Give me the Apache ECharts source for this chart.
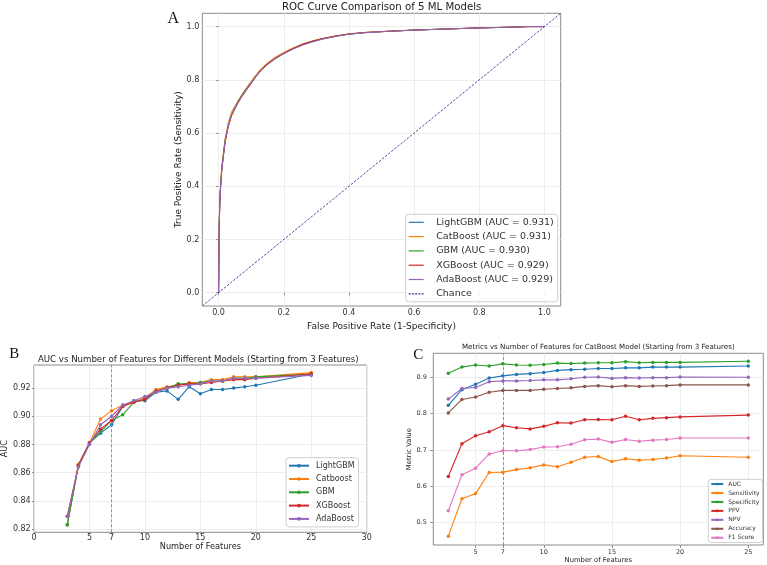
<!DOCTYPE html>
<html><head><meta charset="utf-8">
<script src="https://cdn.jsdelivr.net/npm/echarts@6/dist/echarts.min.js"></script>
<style>html,body{margin:0;padding:0;background:#fff}#c{width:767px;height:565px}</style>
</head><body><div id="c"></div>
<script>
// ---------- Panel A: ROC curves ----------
const rocFpr = [0,0.001,0.002,0.004,0.006,0.010,0.015,0.020,0.025,0.030,0.040,0.050,0.060,0.070,0.085,0.100,0.115,0.130,0.150,0.175,0.200,0.230,0.260,0.290,0.320,0.360,0.400,0.450,0.500,0.600,0.700,0.800,0.900,0.950,1.0];
const tprLightGBM = [0,0.15,0.27,0.35,0.40,0.47,0.52,0.57,0.60,0.63,0.67,0.695,0.718,0.738,0.765,0.79,0.815,0.837,0.86,0.883,0.900,0.918,0.933,0.944,0.954,0.964,0.972,0.978,0.981,0.987,0.991,0.995,0.998,1.0,1.0];
const tprCatBoost = [0,0.16,0.28,0.36,0.41,0.48,0.53,0.58,0.61,0.64,0.68,0.70,0.722,0.742,0.77,0.795,0.82,0.842,0.864,0.886,0.903,0.921,0.936,0.947,0.956,0.965,0.973,0.978,0.982,0.987,0.991,0.995,0.998,1.0,1.0];
const tprGBM = [0,0.14,0.26,0.35,0.40,0.47,0.52,0.57,0.60,0.63,0.67,0.697,0.72,0.74,0.766,0.79,0.814,0.835,0.858,0.88,0.898,0.918,0.934,0.946,0.955,0.964,0.972,0.977,0.981,0.987,0.991,0.995,0.998,1.0,1.0];
const tprXGBoost = [0,0.13,0.25,0.34,0.39,0.46,0.515,0.565,0.595,0.625,0.665,0.69,0.713,0.734,0.76,0.786,0.812,0.835,0.86,0.882,0.900,0.919,0.935,0.946,0.955,0.965,0.972,0.978,0.981,0.987,0.991,0.995,0.998,1.0,1.0];
const tprAdaBoost = [0,0.14,0.26,0.345,0.395,0.465,0.52,0.57,0.60,0.63,0.668,0.693,0.716,0.736,0.763,0.788,0.812,0.834,0.857,0.88,0.898,0.916,0.931,0.943,0.953,0.963,0.971,0.977,0.981,0.987,0.991,0.995,0.998,1.0,1.0];
const rocNames = ['LightGBM (AUC = 0.931)','CatBoost (AUC = 0.931)','GBM (AUC = 0.930)','XGBoost (AUC = 0.929)','AdaBoost (AUC = 0.929)'];
const chanceX = [-0.05, 1.05];
const chanceY = [-0.05, 1.05];
const rocTicks = [0, 0.2, 0.4, 0.6, 0.8, 1.0];

// ---------- Panel B: AUC vs features ----------
const features = [3,4,5,6,7,8,9,10,11,12,13,14,15,16,17,18,19,20,25];
const aucLightGBM = [0.823,0.865,0.881,0.888,0.894,0.907,0.911,0.911,0.917,0.918,0.912,0.921,0.916,0.919,0.919,0.920,0.921,0.922,0.930];
const aucCatboost = [0.823,0.866,0.881,0.898,0.904,0.908,0.910,0.913,0.919,0.921,0.922,0.924,0.924,0.926,0.926,0.928,0.928,0.928,0.931];
const aucGBM = [0.823,0.865,0.881,0.889,0.897,0.901,0.910,0.912,0.918,0.920,0.923,0.923,0.924,0.925,0.925,0.927,0.927,0.928,0.930];
const aucXGBoost = [0.829,0.865,0.881,0.891,0.897,0.907,0.910,0.912,0.918,0.920,0.922,0.923,0.923,0.924,0.925,0.926,0.926,0.927,0.930];
const aucAdaBoost = [0.829,0.864,0.880,0.894,0.900,0.908,0.911,0.914,0.917,0.920,0.921,0.922,0.923,0.925,0.925,0.927,0.927,0.927,0.929];
const modelNames = ['LightGBM','Catboost','GBM','XGBoost','AdaBoost'];
const bXTicks = [0,5,7,10,15,20,25,30];
const bYTicks = [0.82,0.84,0.86,0.88,0.90,0.92];
const cutoff = 7;

// ---------- Panel C: CatBoost metrics ----------
const mAUC = [0.823,0.866,0.881,0.898,0.904,0.908,0.910,0.913,0.919,0.921,0.922,0.924,0.924,0.926,0.926,0.928,0.928,0.928,0.931];
const mSensitivity = [0.463,0.566,0.580,0.638,0.639,0.646,0.651,0.659,0.654,0.666,0.680,0.682,0.668,0.676,0.672,0.674,0.678,0.684,0.680];
const mSpecificity = [0.911,0.928,0.934,0.931,0.937,0.934,0.933,0.935,0.939,0.938,0.939,0.940,0.940,0.943,0.940,0.941,0.941,0.941,0.944];
const mPPV = [0.627,0.717,0.739,0.750,0.767,0.761,0.758,0.765,0.775,0.774,0.783,0.784,0.783,0.793,0.783,0.787,0.789,0.791,0.796];
const mNPV = [0.840,0.869,0.872,0.888,0.890,0.890,0.891,0.893,0.893,0.896,0.900,0.901,0.897,0.899,0.898,0.899,0.899,0.901,0.900];
const mAccuracy = [0.802,0.839,0.846,0.859,0.864,0.864,0.864,0.867,0.869,0.871,0.875,0.877,0.874,0.877,0.875,0.876,0.877,0.879,0.879];
const mF1 = [0.533,0.632,0.650,0.689,0.698,0.698,0.701,0.708,0.709,0.716,0.728,0.730,0.721,0.729,0.724,0.727,0.729,0.733,0.733];
const metricNames = ['AUC','Sensitivity','Specificity','PPV','NPV','Accuracy','F1 Score'];
const cXTicks = [5,7,10,15,20,25];
const cYTicks = [0.5,0.6,0.7,0.8,0.9];

const tab10 = ['#1f77b4','#ff7f0e','#2ca02c','#d62728','#9467bd','#8c564b','#e377c2'];
const FONT = 'DejaVu Sans';
const pairs = (xs, ys) => xs.map((x, i) => [x, ys[i]]);

function mkX(grid, min, max, ticks, fmt, name, o) {
  return {
    gridIndex: grid, type: 'value', min: min, max: max,
    axisLine: { show: false },
    axisTick: { show: true, length: o.tick, lineStyle: { color: '#777', width: 0.8 }, customValues: ticks },
    axisLabel: { customValues: ticks, formatter: fmt, fontFamily: FONT, fontSize: o.fs, color: '#333', margin: o.xm },
    splitLine: { show: true, lineStyle: { color: '#e9e9e9', width: 0.8 } },
    name: name, nameLocation: 'middle', nameGap: o.ng,
    nameTextStyle: { fontFamily: FONT, fontSize: o.nfs, color: '#222' }
  };
}
function mkY(grid, min, max, ticks, fmt, name, o) {
  return {
    gridIndex: grid, type: 'value', min: min, max: max,
    axisLine: { show: false },
    axisTick: { show: true, length: o.tick, lineStyle: { color: '#777', width: 0.8 }, customValues: ticks },
    axisLabel: { customValues: ticks, formatter: fmt, fontFamily: FONT, fontSize: o.fs, color: '#333', margin: o.ym },
    splitLine: { show: true, lineStyle: { color: '#e9e9e9', width: 0.8 } },
    name: name, nameLocation: 'middle', nameGap: o.ngy,
    nameTextStyle: { fontFamily: FONT, fontSize: o.nfs, color: '#222' }
  };
}

const gridStyle = { show: true, borderColor: '#8a8a8a', borderWidth: 1, backgroundColor: 'transparent' };
const oA = { tick: 2.5, fs: 8, xm: 3, ym: 3, ng: 13, ngy: 17, nfs: 9 };
const oB = { tick: 2, fs: 8, xm: 1.5, ym: 3.3, ng: 11, ngy: 17, nfs: 8.2 };
const oC = { tick: 3, fs: 6.5, xm: 3.5, ym: 6.5, ng: 10, ngy: 16, nfs: 6.8 };

const rocTprs = [tprLightGBM, tprCatBoost, tprGBM, tprXGBoost, tprAdaBoost];
const aucSets = [aucLightGBM, aucCatboost, aucGBM, aucXGBoost, aucAdaBoost];
const metricSets = [mAUC, mSensitivity, mSpecificity, mPPV, mNPV, mAccuracy, mF1];

const series = [];
rocTprs.forEach((t, i) => series.push({
  type: 'line', name: rocNames[i], xAxisIndex: 0, yAxisIndex: 0,
  data: pairs(rocFpr, t), symbol: 'none', color: tab10[i],
  lineStyle: { width: 1, color: tab10[i] }, itemStyle: { borderWidth: 0 }, silent: true, z: 3 + i
}));
series.push({
  type: 'line', name: 'Chance', xAxisIndex: 0, yAxisIndex: 0,
  data: pairs(chanceX, chanceY), symbol: 'none', color: '#3a3a99',
  lineStyle: { width: 0.9, color: '#3a3a99', type: [2.5, 1.5] }, itemStyle: { borderWidth: 0 }, silent: true, z: 9
});
const cutLine = () => ({
  silent: true, symbol: 'none', label: { show: false },
  lineStyle: { type: [3, 2], color: '#888', width: 0.9 },
  data: [{ xAxis: cutoff }]
});
aucSets.forEach((v, i) => series.push({
  type: 'line', name: modelNames[i], xAxisIndex: 1, yAxisIndex: 1,
  data: pairs(features, v), symbol: 'circle', symbolSize: 3.5, color: tab10[i],
  lineStyle: { width: 1.1, color: tab10[i] }, itemStyle: { color: tab10[i], borderWidth: 0 }, silent: true,
  markLine: i === 0 ? cutLine() : undefined, z: 3 + i
}));
metricSets.forEach((v, i) => series.push({
  type: 'line', name: metricNames[i], xAxisIndex: 2, yAxisIndex: 2,
  data: pairs(features, v), symbol: 'circle', symbolSize: 3.5, color: tab10[i],
  lineStyle: { width: 1.1, color: tab10[i] }, itemStyle: { color: tab10[i], borderWidth: 0 }, silent: true,
  markLine: i === 0 ? cutLine() : undefined, z: 3 + i
}));

const dashIcon = 'path://M0,0h2.5v1h-2.5zM4,0h2.5v1h-2.5zM8,0h2.5v1h-2.5zM12,0h2.5v1h-2.5zM16,0h2.5v1h-2.5z';
const legendBox = { backgroundColor: 'rgba(255,255,255,0.85)', borderColor: '#cfcfcf', borderWidth: 1, borderRadius: 3 };

const option = {
  animation: false,
  backgroundColor: '#fff',
  grid: [
    Object.assign({ left: 202.3, top: 13.3, width: 358.4, height: 292.7 }, gridStyle),
    Object.assign({ left: 30, top: 365, width: 336.7, height: 167.3 }, gridStyle),
    Object.assign({ left: 433.3, top: 353.3, width: 330, height: 191.7 }, gridStyle)
  ],
  xAxis: [
    mkX(0, -0.05, 1.05, rocTicks, v => v.toFixed(1), 'False Positive Rate (1-Specificity)', oA),
    mkX(1, 0, 30, bXTicks, v => String(v), 'Number of Features', oB),
    mkX(2, 1.9, 26.1, cXTicks, v => String(v), 'Number of Features', oC)
  ],
  yAxis: [
    mkY(0, -0.05, 1.05, rocTicks, v => v.toFixed(1), 'True Positive Rate (Sensitivity)', oA),
    mkY(1, 0.8176, 0.9364, bYTicks, v => v.toFixed(2), 'AUC', oB),
    mkY(2, 0.4386, 0.966, cYTicks, v => v.toFixed(1), 'Metric Value', oC)
  ],
  legend: [
    Object.assign({
      orient: 'vertical', left: 405.7, top: 214.3, padding: [2, 4, 2, 3],
      itemWidth: 15, itemHeight: 1.2, itemGap: 2.3, symbolKeepAspect: false,
      itemStyle: { borderWidth: 0 },
      textStyle: { fontFamily: FONT, fontSize: 9.5, lineHeight: 12, color: '#333', padding: [0, 0, 0, 7.5] },
      data: rocNames.map(n => ({ name: n, icon: 'rect' })).concat([{ name: 'Chance', icon: dashIcon }])
    }, legendBox),
    Object.assign({
      orient: 'vertical', left: 286, top: 457.7, padding: [3, 4, 3, 2],
      itemWidth: 20, itemHeight: 4.5, itemGap: 3.3,
      textStyle: { fontFamily: FONT, fontSize: 8, lineHeight: 10, color: '#333', padding: [0, 0, 0, 2] },
      data: modelNames
    }, legendBox),
    Object.assign({
      orient: 'vertical', left: 708.3, top: 479.3, padding: [1, 3, 1, 2],
      itemWidth: 12, itemHeight: 3.5, itemGap: 1.45,
      textStyle: { fontFamily: FONT, fontSize: 6, lineHeight: 7.5, color: '#333' },
      data: metricNames
    }, legendBox)
  ],
  graphic: [
    { type: 'text', x: 381.7, y: 7.3, style: { text: 'ROC Curve Comparison of 5 ML Models', font: '10.2px "DejaVu Sans"', fill: '#222', align: 'center', verticalAlign: 'middle', textAlign: 'center', textVerticalAlign: 'middle' } },
    { type: 'text', x: 198.3, y: 360, style: { text: 'AUC vs Number of Features for Different Models (Starting from 3 Features)', font: '8.6px "DejaVu Sans"', fill: '#222', align: 'center', verticalAlign: 'middle', textAlign: 'center', textVerticalAlign: 'middle' } },
    { type: 'text', x: 598.3, y: 346.7, style: { text: 'Metrics vs Number of Features for CatBoost Model (Starting from 3 Features)', font: '7.1px "DejaVu Sans"', fill: '#222', align: 'center', verticalAlign: 'middle', textAlign: 'center', textVerticalAlign: 'middle' } },
    { type: 'text', x: 173.3, y: 19, style: { text: 'A', font: '16px "Liberation Serif"', fill: '#111', align: 'center', verticalAlign: 'middle', textAlign: 'center', textVerticalAlign: 'middle' } },
    { type: 'text', x: 14.3, y: 354.5, style: { text: 'B', font: '15px "Liberation Serif"', fill: '#111', align: 'center', verticalAlign: 'middle', textAlign: 'center', textVerticalAlign: 'middle' } },
    { type: 'text', x: 418.3, y: 355, style: { text: 'C', font: '15px "Liberation Serif"', fill: '#111', align: 'center', verticalAlign: 'middle', textAlign: 'center', textVerticalAlign: 'middle' } }
  ],
  series: series
};
const chart = echarts.init(document.getElementById('c'));
chart.setOption(option);
</script>
</body></html>
